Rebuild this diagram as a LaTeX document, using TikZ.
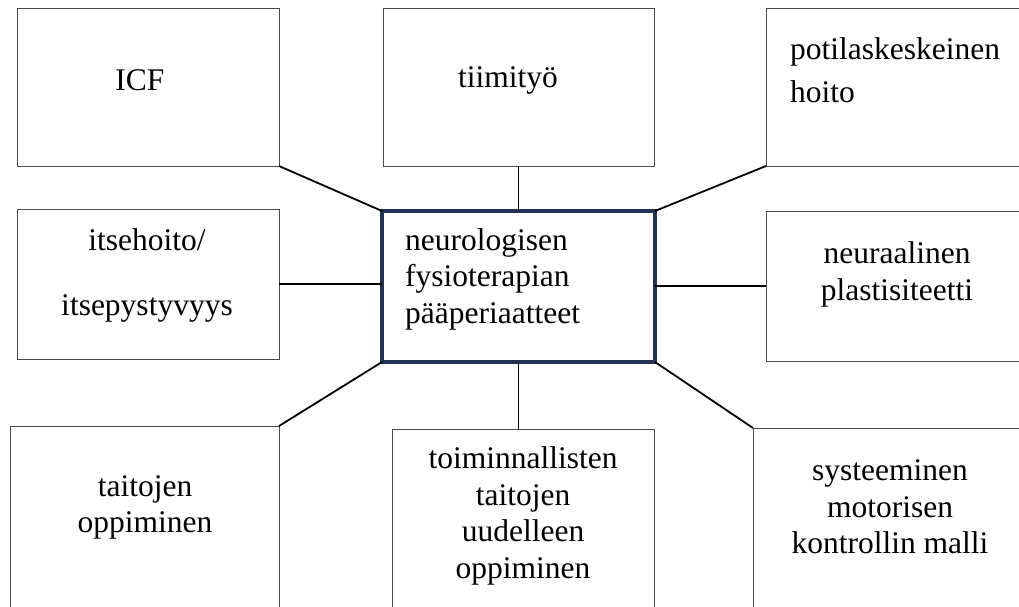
\documentclass[tikz,border=0pt]{standalone}
\usepackage{fontspec}
\setmainfont{Liberation Serif}
\usepackage{xcolor}
\usetikzlibrary{calc}

\definecolor{hubblue}{RGB}{35,50,80}

\begin{document}
\begin{tikzpicture}[x=1pt, y=-1pt,
	box/.style = {draw=black!70, line width=0.9pt, rectangle, inner sep=0pt, outer sep=0pt},
	hub/.style = {draw=hubblue, line width=3.2pt, rectangle, inner sep=0pt, outer sep=0pt},
	txt/.style = {font=\fontsize{31.5}{36.5}\selectfont, align=center, inner sep=0pt},
	link/.style = {draw=black, line width=1.8pt}]

	\useasboundingbox (0,0) rectangle (1019,606);
	\clip (0,0) rectangle (1019,606);

	\node [box, minimum width=262, minimum height=158] (icf) at (148,87) {};
	\node [box, minimum width=271, minimum height=158] (team) at (518.5,87) {};
	\node [box, minimum width=264, minimum height=158] (patient) at (898,87) {};

	\node [box, minimum width=262, minimum height=150] (self) at (148,284) {};
	\node [hub, minimum width=273, minimum height=151] (hub) at (518.5,286.5) {};
	\node [box, minimum width=264, minimum height=150] (plast) at (898,286) {};

	\node [box, minimum width=269, minimum height=194] (learn) at (144.5,523) {};
	\node [box, minimum width=262, minimum height=191] (relearn) at (523,524.5) {};
	\node [box, minimum width=277, minimum height=192] (motor) at (891.5,524) {};

	\node [txt] (icf-t) at (140,80) {ICF};
	\node [txt] (team-t) at (508,80) {tiimityö};
	\node [txt, align=left, anchor=west] (patient-t) at (790,70) {potilaskeskeinen\\[7pt]hoito};
	\node [txt] (self-t) at (147,275) {itsehoito/\\[28.5pt]itsepystyvyys};
	\node [txt, align=left, anchor=west] (hub-t) at (405,279) {neurologisen\\fysioterapian\\pääperiaatteet};
	\node [txt] (plast-t) at (897,274.5) {neuraalinen\\plastisiteetti};
	\node [txt] (learn-t) at (145,507.5) {taitojen\\oppiminen};
	\node [txt] (relearn-t) at (523,516) {toiminnallisten\\taitojen\\uudelleen\\oppiminen};
	\node [txt] (motor-t) at (890,507) {systeeminen\\motorisen\\kontrollin malli};

	\draw [link] (icf.south east) -- (hub.north west);
	\draw [link] (team.south) -- (hub.north);
	\draw [link] (patient.south west) -- (hub.north east);
	\draw [link] (self.east) -- (self.east -| hub.west);
	\draw [link] (plast.west) -- (plast.west -| hub.east);
	\draw [link] (learn.north east) -- (hub.south west);
	\draw [link] (hub.south) -- (hub.south |- relearn.north);
	\draw [link] (motor.north west) -- (hub.south east);
\end{tikzpicture}
\end{document}
